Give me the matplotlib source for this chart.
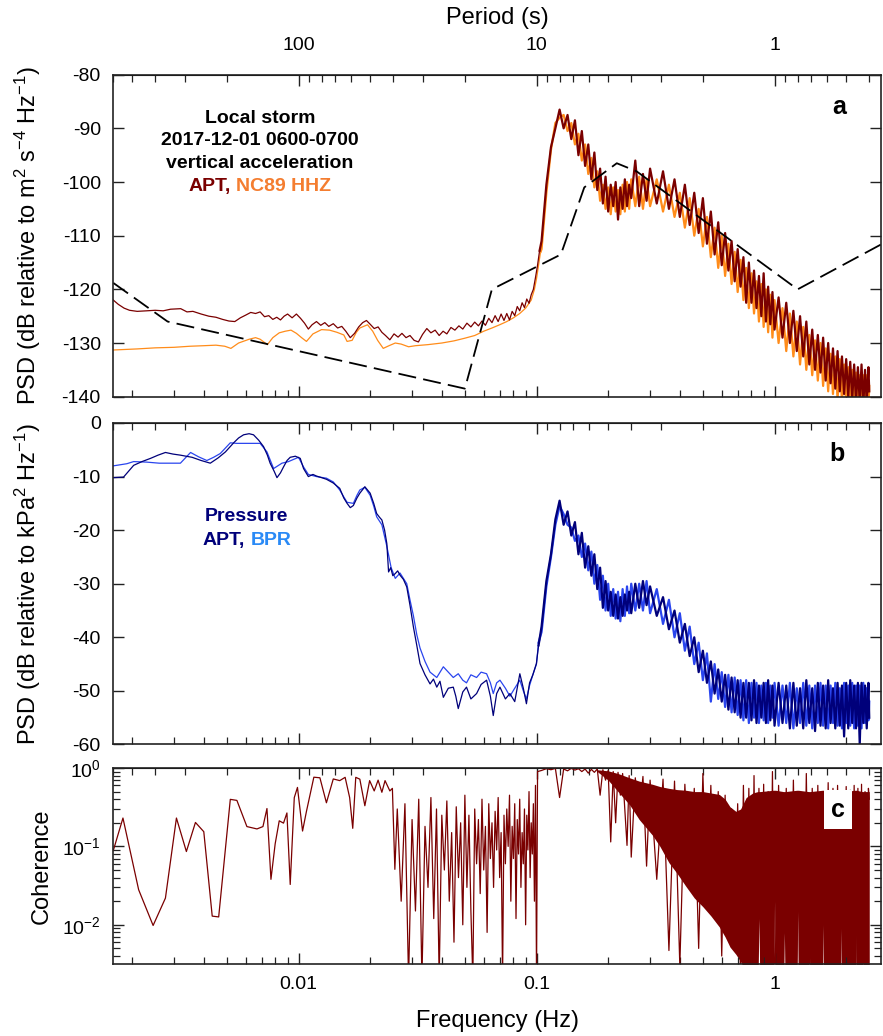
import numpy as np
import matplotlib
matplotlib.use("Agg")
import matplotlib.pyplot as plt
from matplotlib.ticker import (FuncFormatter, NullFormatter, LogLocator,
                               MultipleLocator, FixedLocator)
from matplotlib.offsetbox import TextArea, HPacker, AnnotationBbox

plt.rcParams['font.family'] = ['Liberation Sans', 'DejaVu Sans']
plt.rcParams['axes.unicode_minus'] = False
plt.rcParams['mathtext.fontset'] = 'custom'
plt.rcParams['mathtext.rm'] = 'Liberation Sans'
plt.rcParams['mathtext.it'] = 'Liberation Sans:italic'
plt.rcParams['mathtext.bf'] = 'Liberation Sans:bold'

# ---------------- data ----------------
# Peterson high noise model corners (period s, dB)
nhnm_period = [600, 354.8, 20, 15.4, 7.9, 6.3, 4.6, 3.8, 0.8, 0.32]
nhnm_db = [-118.8, -126.0, -138.5, -120.0, -113.5, -101.0, -96.5, -98.0, -120.0, -110.5]

# panel a, low frequency part
apt_a_lo_f = [0.001667, 0.00175, 0.00185, 0.00195, 0.0021, 0.0023, 0.0025, 0.0027, 0.0029, 0.0032,
              0.0034, 0.0036, 0.0039, 0.0042, 0.0045, 0.0048, 0.0051, 0.0054, 0.0057, 0.006,
              0.0063, 0.0066, 0.0069, 0.0072, 0.0075, 0.0078, 0.0081, 0.0084, 0.0087, 0.009,
              0.0094, 0.0098, 0.0102, 0.0106, 0.011, 0.0114, 0.0119, 0.0124, 0.0129, 0.0134,
              0.014, 0.0146, 0.0152, 0.0158, 0.0165, 0.0172, 0.0179, 0.0186, 0.0193, 0.02,
              0.0208, 0.0216, 0.0224, 0.0232, 0.0242, 0.0252, 0.0262, 0.0272, 0.0283, 0.0294,
              0.0306, 0.0319, 0.0332, 0.0346, 0.036, 0.0375, 0.039, 0.0405, 0.042, 0.0437,
              0.0454, 0.0472, 0.049, 0.051, 0.053, 0.055, 0.057, 0.059, 0.061, 0.063,
              0.065, 0.067, 0.069, 0.071, 0.073, 0.075, 0.077, 0.079, 0.081, 0.083,
              0.085, 0.087, 0.089, 0.091, 0.093, 0.095, 0.097, 0.099, 0.101, 0.103]
apt_a_lo = [-122.0, -122.8, -123.5, -123.9, -124.1, -124.0, -123.9, -124.0, -123.7, -123.6,
            -124.2, -124.1, -124.6, -125.0, -125.2, -125.6, -125.9, -126.0, -125.3, -124.8,
            -124.3, -124.5, -124.2, -125.1, -124.9, -125.6, -125.2, -125.7, -125.0, -124.6,
            -125.3, -124.6, -125.4, -126.3, -127.4, -126.6, -126.0, -126.7, -126.2, -126.9,
            -126.4, -127.2, -126.9, -127.8, -129.0, -128.2, -127.0, -126.2, -125.8, -126.5,
            -127.3, -127.0, -128.0, -128.6, -129.4, -128.3, -128.9, -128.2, -129.0, -128.6,
            -129.5, -129.8, -128.4, -127.3, -128.1, -127.6, -128.6, -127.8, -128.3, -127.1,
            -127.6, -126.8, -127.4, -126.3, -127.0, -126.1, -126.8, -125.9, -126.7, -125.4,
            -126.2, -124.9, -126.0, -124.6, -125.8, -124.5, -125.7, -124.1, -124.9, -123.2,
            -124.0, -122.5, -123.4, -121.8, -122.6, -121.0, -120.0, -117.8, -115.5, -112.8]

nc89_lo_f = [0.001667, 0.0021, 0.0025, 0.003, 0.0035, 0.004, 0.0045, 0.0049, 0.0052, 0.0056,
             0.0062, 0.0066, 0.0069, 0.0074, 0.0078, 0.0083, 0.0088, 0.0093, 0.0098, 0.0103,
             0.0108, 0.0115, 0.0125, 0.0135, 0.0145, 0.0155, 0.016, 0.0168, 0.0175, 0.0181,
             0.0195, 0.0205, 0.0215, 0.0227, 0.024, 0.0255, 0.027, 0.029, 0.031, 0.035,
             0.04, 0.045, 0.05, 0.055, 0.06, 0.065, 0.07, 0.075, 0.08, 0.085,
             0.09, 0.095, 0.098, 0.1, 0.102, 0.104]
nc89_lo = [-131.3, -131.1, -130.9, -130.8, -130.6, -130.5, -130.4, -130.6, -131.0, -130.0,
           -129.3, -129.0, -129.3, -130.3, -129.0, -128.1, -127.8, -127.6, -128.2, -129.0,
           -129.7, -128.3, -127.5, -127.6, -128.0, -128.5, -129.7, -129.5, -128.0, -127.2,
           -126.6, -127.8, -129.5, -131.0, -130.5, -130.0, -130.2, -130.7, -130.5, -130.3,
           -130.0, -129.6, -129.1, -128.6, -127.8, -127.2, -126.6, -126.0, -125.3, -124.5,
           -123.5, -122.0, -120.0, -118.0, -115.5, -113.0]

# shared grid for the dense high-frequency part (Hz)
f_hi = [0.105, 0.11, 0.115, 0.12, 0.125, 0.13, 0.135, 0.14, 0.145, 0.15,
        0.155, 0.16, 0.165, 0.17, 0.175, 0.18, 0.185, 0.19, 0.195, 0.2,
        0.205, 0.21, 0.215, 0.22, 0.225, 0.23, 0.235, 0.24, 0.245, 0.25,
        0.26, 0.27, 0.28, 0.29, 0.3, 0.32, 0.34, 0.36, 0.38, 0.4,
        0.42, 0.44, 0.46, 0.48, 0.5, 0.52, 0.54, 0.56, 0.58, 0.6,
        0.62, 0.64, 0.66, 0.68, 0.7, 0.72, 0.74, 0.76, 0.78, 0.8,
        0.82, 0.84, 0.86, 0.88, 0.9, 0.92, 0.94, 0.96, 0.98, 1.0,
        1.04, 1.08, 1.12, 1.16, 1.2, 1.24, 1.28, 1.32, 1.36, 1.4,
        1.44, 1.48, 1.52, 1.56, 1.6, 1.64, 1.68, 1.72, 1.76, 1.8,
        1.84, 1.88, 1.92, 1.96, 2.0, 2.04, 2.08, 2.12, 2.16, 2.2,
        2.24, 2.28, 2.32, 2.36, 2.4, 2.44, 2.48, 2.5]

apt_a_hi = [-111.0, -100.5, -93.5, -90.0, -86.5, -90.0, -87.5, -92.0, -88.5, -95.0,
            -90.5, -97.0, -93.0, -99.5, -94.5, -101.5, -97.5, -104.0, -99.0, -105.5,
            -100.5, -104.5, -100.0, -107.0, -101.0, -105.0, -99.5, -104.5, -100.5, -103.0,
            -96.0, -104.5, -98.5, -103.5, -97.5, -104.0, -98.0, -105.0, -99.5, -106.5,
            -100.5, -108.0, -102.0, -109.5, -103.0, -111.5, -105.5, -113.5, -107.5, -115.5,
            -109.5, -116.5, -111.0, -118.5, -112.5, -119.5, -114.0, -122.5, -115.0, -122.5,
            -116.5, -123.5, -117.5, -125.0, -117.0, -126.0, -119.5, -126.5, -120.5, -127.5,
            -121.5, -129.0, -122.5, -130.0, -124.0, -131.5, -125.0, -132.5, -126.0, -134.0,
            -127.5, -135.0, -128.5, -135.5, -129.0, -137.0, -130.0, -137.5, -131.0, -138.5,
            -131.5, -139.0, -132.5, -139.5, -133.0, -140.0, -133.5, -140.5, -134.0, -141.0,
            -134.5, -141.0, -134.0, -141.5, -135.0, -141.0, -134.5, -139.0]

nc89_hi = [-112.5, -102.0, -94.0, -89.0, -88.0, -87.5, -90.5, -89.0, -93.0, -91.0,
           -96.0, -93.0, -98.5, -95.5, -101.0, -98.0, -103.5, -100.5, -105.0, -101.0,
           -106.0, -101.0, -105.5, -101.5, -106.0, -100.5, -105.5, -100.0, -105.0, -99.5,
           -104.5, -99.0, -105.0, -99.5, -104.5, -99.5, -105.5, -100.5, -106.5, -102.0,
           -108.5, -103.0, -110.0, -105.0, -112.0, -106.5, -114.0, -108.5, -116.0, -110.0,
           -117.5, -111.5, -119.0, -113.0, -120.5, -114.5, -122.0, -116.0, -123.5, -117.0,
           -124.5, -118.5, -126.0, -119.0, -127.0, -120.0, -128.0, -121.0, -129.0, -122.0,
           -130.0, -123.5, -131.5, -124.5, -132.5, -126.0, -134.0, -127.0, -135.0, -128.5,
           -136.0, -129.5, -137.0, -130.0, -138.0, -131.0, -139.0, -132.0, -139.5, -132.5,
           -140.5, -133.0, -141.0, -134.0, -141.5, -134.5, -142.0, -135.0, -142.0, -135.5,
           -142.0, -136.0, -142.0, -136.0, -142.0, -136.0, -142.0, -138.0]

# panel b, pressure
apt_b_lo_f = [0.001667, 0.00184, 0.00203, 0.0022, 0.00239, 0.00257, 0.00276, 0.00297, 0.00319, 0.00337,
              0.00357, 0.0039, 0.00426, 0.0046, 0.00493, 0.00534, 0.0056, 0.00588, 0.0062, 0.00647,
              0.0068, 0.00713, 0.0074, 0.0076, 0.0079, 0.00812, 0.0084, 0.00865, 0.00895, 0.00923,
              0.0097, 0.01017, 0.0105, 0.011, 0.0115, 0.0119, 0.0125, 0.0131, 0.014, 0.0149,
              0.0155, 0.016, 0.0165, 0.017, 0.0176, 0.0181, 0.019, 0.02, 0.0207, 0.0213,
              0.0219, 0.0224, 0.023, 0.0235, 0.0239, 0.0244, 0.0249, 0.0255, 0.0261, 0.0267,
              0.0276, 0.0285, 0.0294, 0.0304, 0.0314, 0.0324, 0.034, 0.0357, 0.0369, 0.0381,
              0.0393, 0.0406, 0.0426, 0.0447, 0.0458, 0.0469, 0.049, 0.0508, 0.053, 0.056,
              0.0585, 0.0617, 0.064, 0.0658, 0.068, 0.0702, 0.074, 0.0773, 0.081, 0.0851,
              0.088, 0.0907, 0.0935, 0.0965, 0.0999, 0.102]
apt_b_lo = [-10.2, -10.1, -7.9, -7.2, -6.6, -6.0, -5.5, -5.8, -6.0, -6.2,
            -6.4, -7.0, -7.5, -6.5, -5.4, -3.7, -2.8, -2.2, -2.0, -2.2,
            -3.2, -4.4, -6.0, -7.5, -9.0, -10.2, -9.3, -8.2, -7.0, -6.4,
            -6.2, -6.6, -8.5, -10.0, -9.6, -9.9, -10.2, -10.5, -11.2, -12.2,
            -14.0, -15.0, -15.8, -15.4, -14.0, -13.1, -11.9, -13.1, -15.0, -16.9,
            -17.6, -18.1, -20.0, -22.5, -27.8, -27.0, -28.5, -28.1, -27.6, -28.4,
            -29.2, -30.6, -34.0, -38.1, -41.5, -44.9, -47.0, -48.7, -47.8, -49.3,
            -48.2, -51.2, -49.5, -49.3, -51.0, -53.3, -50.2, -49.3, -51.5, -50.5,
            -48.8, -48.0, -51.0, -54.6, -50.5, -49.3, -51.5, -50.5, -52.0, -46.8,
            -49.5, -52.4, -48.5, -47.0, -44.9, -41.5]

bpr_lo_f = [0.001667, 0.0019, 0.00203, 0.0023, 0.0026, 0.0029, 0.00319, 0.00352, 0.0038, 0.00412,
            0.0044, 0.00469, 0.00517, 0.0055, 0.00588, 0.0064, 0.0069, 0.00737, 0.00786, 0.00852,
            0.00908, 0.01, 0.0105, 0.011, 0.0119, 0.0131, 0.014, 0.0149, 0.0155, 0.016,
            0.017, 0.0176, 0.0181, 0.019, 0.02, 0.0207, 0.0213, 0.0224, 0.0235, 0.0245,
            0.0255, 0.0267, 0.0285, 0.0294, 0.0304, 0.0314, 0.0324, 0.034, 0.0357, 0.0381,
            0.0406, 0.0426, 0.0447, 0.0469, 0.049, 0.0508, 0.053, 0.056, 0.0585, 0.0617,
            0.064, 0.0658, 0.068, 0.0702, 0.074, 0.0773, 0.081, 0.0851, 0.088, 0.0907,
            0.0935, 0.0965, 0.0999, 0.102]
bpr_lo = [-8.0, -7.6, -7.2, -7.3, -7.5, -7.5, -7.5, -5.5, -6.3, -7.0,
          -6.4, -5.7, -3.7, -3.8, -3.8, -3.8, -3.8, -5.4, -8.5, -7.5,
          -7.2, -6.4, -8.2, -9.6, -10.0, -10.3, -11.0, -12.5, -13.8, -14.8,
          -15.0, -13.5, -12.5, -12.0, -13.5, -15.5, -17.5, -19.0, -23.0, -27.0,
          -29.0, -28.0, -30.0, -33.0, -36.0, -39.5, -42.0, -44.5, -46.5, -47.5,
          -45.5, -46.5, -47.5, -46.8, -48.0, -48.5, -47.0, -47.5, -46.5, -46.8,
          -48.5, -50.5, -48.5, -48.0, -49.5, -51.0, -49.5, -48.0, -50.0, -51.5,
          -49.0, -47.0, -45.0, -41.0]

apt_b_hi = [-38.0, -29.5, -24.5, -18.0, -14.5, -19.0, -16.5, -21.0, -18.5, -24.5,
            -20.5, -27.0, -23.0, -28.5, -24.5, -31.0, -27.0, -34.5, -29.5, -35.0,
            -31.5, -36.0, -32.0, -36.5, -32.5, -36.0, -32.0, -35.0, -31.5, -35.5,
            -30.0, -34.5, -29.5, -34.0, -30.5, -36.0, -32.5, -38.5, -35.0, -41.0,
            -37.5, -43.5, -40.0, -46.5, -42.5, -48.5, -44.5, -50.5, -46.0, -52.0,
            -47.0, -53.5, -47.5, -54.0, -48.0, -55.0, -48.5, -55.0, -48.5, -55.5,
            -48.0, -56.0, -49.0, -55.0, -48.5, -56.0, -48.0, -55.5, -49.0, -56.5,
            -48.5, -56.0, -49.0, -57.0, -48.5, -56.5, -49.5, -57.0, -48.0, -56.0,
            -49.5, -57.5, -48.5, -56.5, -49.0, -57.0, -48.0, -56.0, -49.5, -57.0,
            -48.5, -56.5, -49.0, -58.5, -48.5, -57.0, -48.0, -56.0, -49.0, -57.0,
            -48.5, -60.0, -48.5, -56.0, -49.0, -57.0, -48.5, -55.0]

bpr_hi = [-39.0, -30.5, -25.0, -19.0, -15.5, -17.0, -19.0, -19.5, -22.0, -21.0,
          -25.0, -22.5, -27.5, -24.0, -30.0, -26.5, -33.0, -28.5, -35.0, -30.0,
          -36.0, -31.0, -36.5, -31.5, -37.0, -31.0, -36.0, -30.5, -35.5, -30.0,
          -35.0, -30.0, -35.0, -29.5, -35.5, -31.0, -37.5, -33.0, -40.0, -35.5,
          -42.5, -38.0, -45.0, -41.0, -48.0, -43.0, -52.0, -45.0, -51.5, -46.5,
          -53.0, -47.0, -54.0, -47.5, -54.5, -48.0, -55.5, -48.0, -56.0, -48.5,
          -55.0, -48.5, -56.0, -49.0, -55.5, -48.5, -56.0, -49.0, -55.0, -48.5,
          -56.5, -49.0, -56.0, -48.5, -57.0, -49.5, -56.0, -48.5, -56.5, -49.0,
          -57.0, -49.0, -56.0, -48.5, -56.5, -49.0, -57.0, -49.0, -56.0, -48.5,
          -56.5, -49.5, -57.0, -48.5, -56.0, -49.0, -56.5, -48.5, -57.0, -49.0,
          -56.5, -49.0, -57.0, -48.5, -56.0, -49.5, -55.5, -52.0]

# panel c, coherence
coh_lo_f = [0.001667, 0.00183, 0.00213, 0.00245, 0.00276, 0.00307, 0.00338, 0.00369, 0.004, 0.00434,
            0.00462, 0.00517, 0.00551, 0.00607, 0.00669, 0.00709, 0.00737, 0.00766, 0.00798, 0.0083,
            0.00865, 0.00894, 0.00923, 0.0096, 0.0099, 0.0104, 0.0108, 0.0116, 0.0123, 0.0131,
            0.014, 0.0149, 0.0157, 0.0164, 0.0169, 0.0174, 0.0181, 0.019, 0.0199, 0.0208,
            0.0216, 0.0224, 0.0231, 0.0242, 0.0248, 0.0254]
coh_lo = [0.0887, 0.23, 0.028, 0.0098, 0.0219, 0.23, 0.086, 0.202, 0.154, 0.0129,
          0.0126, 0.398, 0.386, 0.179, 0.167, 0.179, 0.304, 0.038, 0.108, 0.212,
          0.198, 0.267, 0.0327, 0.419, 0.565, 0.157, 0.28, 0.763, 0.75, 0.36,
          0.725, 0.69, 0.76, 0.42, 0.17, 0.76, 0.72, 0.33, 0.69, 0.51,
          0.7, 0.49, 0.69, 0.51, 0.55, 0.051]

coh_mid_f = [0.026, 0.027, 0.028, 0.029, 0.030, 0.031, 0.032, 0.033, 0.034, 0.035,
             0.036, 0.037, 0.038, 0.039, 0.040, 0.041, 0.042, 0.043, 0.044, 0.045,
             0.046, 0.047, 0.048, 0.049, 0.050, 0.051, 0.052, 0.053, 0.054, 0.055,
             0.056, 0.057, 0.058, 0.059, 0.060, 0.061, 0.062, 0.063, 0.064, 0.065,
             0.066, 0.067, 0.068, 0.069, 0.070, 0.071, 0.072, 0.073, 0.074, 0.075,
             0.076, 0.077, 0.078, 0.079, 0.080, 0.081, 0.082, 0.083, 0.084, 0.085,
             0.086, 0.087, 0.088, 0.089, 0.090, 0.091, 0.092, 0.093, 0.094, 0.095,
             0.096, 0.097, 0.098, 0.099, 0.100, 0.101]
coh_mid = [0.30, 0.02, 0.35, 0.002, 0.22, 0.015, 0.40, 0.002, 0.18, 0.03,
           0.42, 0.012, 0.30, 0.002, 0.25, 0.05, 0.38, 0.02, 0.15, 0.006,
           0.32, 0.04, 0.20, 0.01, 0.45, 0.03, 0.25, 0.015, 0.002, 0.30,
           0.06, 0.22, 0.025, 0.40, 0.05, 0.18, 0.008, 0.35, 0.07, 0.20,
           0.03, 0.28, 0.09, 0.42, 0.04, 0.15, 0.002, 0.25, 0.06, 0.30,
           0.10, 0.45, 0.02, 0.18, 0.07, 0.35, 0.012, 0.22, 0.08, 0.40,
           0.03, 0.15, 0.06, 0.30, 0.01, 0.25, 0.09, 0.50, 0.04, 0.20,
           0.08, 0.35, 0.02, 0.60, 0.002, 0.90]

coh_hi = [0.93, 0.98, 0.95, 0.99, 0.42, 0.97, 0.92, 0.99, 0.94, 0.98,
          0.90, 0.97, 0.86, 0.96, 0.88, 0.97, 0.45, 0.95, 0.70, 0.93,
          0.114, 0.90, 0.20, 0.88, 0.45, 0.85, 0.30, 0.103, 0.80, 0.073,
          0.75, 0.25, 0.78, 0.056, 0.70, 0.038, 0.72, 0.0047, 0.68, 0.003,
          0.62, 0.03, 0.55, 0.005, 0.85, 0.018, 0.60, 0.012, 0.50, 0.004,
          0.45, 0.007, 0.30, 0.0055, 0.35, 0.002, 0.60, 0.0035, 0.55, 0.001,
          0.80, 0.001, 0.55, 0.003, 0.62, 0.001, 0.50, 0.002, 0.90, 0.001,
          0.60, 0.002, 0.55, 0.001, 0.70, 0.003, 0.50, 0.001, 0.85, 0.002,
          0.55, 0.001, 0.60, 0.002, 0.50, 0.001, 0.65, 0.003, 0.55, 0.001,
          0.60, 0.002, 0.50, 0.001, 0.58, 0.002, 0.52, 0.001, 0.60, 0.003,
          0.55, 0.001, 0.62, 0.002, 0.50, 0.001, 0.55, 0.40]

# envelope of the dense coherence band
band_f = [0.18, 0.2, 0.22, 0.246, 0.27, 0.307, 0.33, 0.36, 0.39, 0.424,
          0.46, 0.5, 0.54, 0.586, 0.62, 0.65, 0.688, 0.72, 0.76, 0.81,
          0.85, 0.86, 0.87, 0.99, 1.0, 1.01, 1.09, 1.1, 1.11, 1.24,
          1.25, 1.26, 1.39, 1.4, 1.41, 1.59, 1.6, 1.61, 1.89, 1.9,
          1.91, 2.19, 2.2, 2.21, 2.34, 2.35, 2.36, 2.5]
band_top = [0.95, 0.92, 0.85, 0.75, 0.68, 0.62, 0.58, 0.55, 0.53, 0.52,
            0.5, 0.5, 0.48, 0.46, 0.4, 0.32, 0.28, 0.3, 0.42, 0.48,
            0.5, 0.5, 0.5, 0.52, 0.52, 0.52, 0.5, 0.5, 0.5, 0.52,
            0.52, 0.52, 0.5, 0.5, 0.5, 0.52, 0.52, 0.52, 0.5, 0.5,
            0.5, 0.52, 0.52, 0.52, 0.5, 0.5, 0.5, 0.5]
band_bot = [0.9, 0.7, 0.5, 0.34, 0.22, 0.139, 0.1, 0.062, 0.045, 0.031,
            0.022, 0.017, 0.013, 0.0094, 0.007, 0.0052, 0.0042, 0.0034, 0.0025, 0.001,
            0.001, 0.012, 0.001, 0.001, 0.02, 0.001, 0.001, 0.008, 0.001, 0.001,
            0.015, 0.001, 0.001, 0.006, 0.001, 0.001, 0.01, 0.001, 0.001, 0.009,
            0.001, 0.001, 0.012, 0.001, 0.001, 0.007, 0.001, 0.001]

period_ticks = [100, 10, 1]

# colours
RED = '#7a0000'
ORANGE = '#ff8c1a'
NAVY = '#00007a'
BLUE = '#2a45ee'

# ---------------- figure ----------------
fig = plt.figure(figsize=(8.83, 10.36), dpi=100)
L, W = 0.1283, 0.8694
ax_a = fig.add_axes([L, 0.6171, W, 0.3108])
ax_b = fig.add_axes([L, 0.2814, W, 0.3103])
ax_c = fig.add_axes([L, 0.0695, W, 0.1892])


def inverse(x):
    x = np.array(x, float)
    near_zero = np.isclose(x, 0)
    x[near_zero] = np.inf
    x[~near_zero] = 1 / x[~near_zero]
    return x


plain = FuncFormatter(lambda v, _: f"{v:g}")

for ax in (ax_a, ax_b, ax_c):
    ax.set_xscale('log')
    ax.set_xlim(1 / 600, 2.8)
    ax.tick_params(which='both', direction='in', top=False, right=True,
                   labelsize=14, color='#222222', pad=9)
    ax.tick_params(which='major', length=8, width=1)
    ax.tick_params(which='minor', length=5, width=0.9)
    ax.xaxis.set_major_formatter(NullFormatter())
    ax.xaxis.set_minor_formatter(NullFormatter())
    for s in ax.spines.values():
        s.set_linewidth(1.2)
        s.set_color('#222222')
    # period ticks along the top
    sec = ax.secondary_xaxis('top', functions=(inverse, inverse))
    sec.xaxis.set_major_locator(FixedLocator(period_ticks))
    sec.tick_params(which='both', direction='in', labelsize=14, color='#222222', pad=15)
    sec.tick_params(which='major', length=8, width=1)
    sec.tick_params(which='minor', length=5, width=0.9)
    sec.xaxis.set_minor_formatter(NullFormatter())
    if ax is ax_a:
        sec.xaxis.set_major_formatter(plain)
    else:
        sec.tick_params(labeltop=False)

# ---- panel a ----
ax_a.plot(nc89_lo_f, nc89_lo, color=ORANGE, lw=0.9)
ax_a.plot(nc89_lo_f[-1:] + f_hi, nc89_lo[-1:] + nc89_hi, color=ORANGE, lw=1.6)
ax_a.plot(apt_a_lo_f, apt_a_lo, color=RED, lw=0.9)
ax_a.plot(apt_a_lo_f[-1:] + f_hi, apt_a_lo[-1:] + apt_a_hi, color=RED, lw=1.6)
ax_a.plot([1 / p for p in nhnm_period], nhnm_db, color='black', lw=1.3, dashes=(10, 4))
ax_a.set_ylim(-140, -80)
ax_a.yaxis.set_major_locator(MultipleLocator(10))
ax_a.set_ylabel(r"PSD (dB relative to m$^2$ s$^{-4}$ Hz$^{-1}$)", fontsize=17, va='center')
ax_a.yaxis.set_label_coords(-0.111, 0.5)

for y, s in [(0.8655, "Local storm"), (0.797, "2017-12-01 0600-0700"),
             (0.725, "vertical acceleration")]:
    ax_a.text(0.191, y, s, transform=ax_a.transAxes, ha='center', va='center',
              fontsize=14, fontweight='bold')
row = HPacker(children=[TextArea("APT,", textprops=dict(color=RED, fontsize=14, fontweight='bold')),
                        TextArea("NC89 HHZ", textprops=dict(color='#f47d30', fontsize=14, fontweight='bold'))],
              sep=4, pad=0, align='baseline')
ax_a.add_artist(AnnotationBbox(row, (0.191, 0.652), xycoords=ax_a.transAxes,
                               frameon=False, box_alignment=(0.5, 0.5)))
ax_a.text(0.946, 0.9, "a", transform=ax_a.transAxes, ha='center', va='center',
          fontsize=18, fontweight='bold')

# ---- panel b ----
ax_b.plot(bpr_lo_f, bpr_lo, color=BLUE, lw=0.9)
ax_b.plot(bpr_lo_f[-1:] + f_hi, bpr_lo[-1:] + bpr_hi, color=BLUE, lw=1.6)
ax_b.plot(apt_b_lo_f, apt_b_lo, color=NAVY, lw=0.9)
ax_b.plot(apt_b_lo_f[-1:] + f_hi, apt_b_lo[-1:] + apt_b_hi, color=NAVY, lw=1.6)
ax_b.set_ylim(-60, 0)
ax_b.yaxis.set_major_locator(MultipleLocator(10))
ax_b.set_ylabel(r"PSD (dB relative to kPa$^2$ Hz$^{-1}$)", fontsize=17, va='center')
ax_b.yaxis.set_label_coords(-0.111, 0.5)
ax_b.text(0.174, 0.7086, "Pressure", transform=ax_b.transAxes, ha='center', va='center',
          fontsize=14, fontweight='bold', color=NAVY)
row_b = HPacker(children=[TextArea("APT,", textprops=dict(color=NAVY, fontsize=14, fontweight='bold')),
                          TextArea("BPR", textprops=dict(color='#2a8af6', fontsize=14, fontweight='bold'))],
                sep=4, pad=0, align='baseline')
ax_b.add_artist(AnnotationBbox(row_b, (0.174, 0.636), xycoords=ax_b.transAxes,
                               frameon=False, box_alignment=(0.5, 0.5)))
ax_b.text(0.943, 0.9036, "b", transform=ax_b.transAxes, ha='center', va='center',
          fontsize=18, fontweight='bold')

# ---- panel c ----
ax_c.set_yscale('log')
ax_c.fill_between(band_f, band_bot, band_top, color=RED, lw=0)
ax_c.plot(coh_lo_f + coh_mid_f + f_hi, coh_lo + coh_mid + coh_hi, color=RED, lw=0.9)
ax_c.set_ylim(10 ** -2.5, 1.0)
ax_c.yaxis.set_major_locator(LogLocator(base=10, numticks=10))
ax_c.yaxis.set_minor_locator(LogLocator(base=10, subs=np.arange(2, 10), numticks=10))
ax_c.yaxis.set_minor_formatter(NullFormatter())
ax_c.xaxis.set_major_formatter(plain)
ax_c.set_ylabel("Coherence", fontsize=17, va='center')
ax_c.yaxis.set_label_coords(-0.093, 0.5)
ax_c.text(0.944, 0.786, "c", transform=ax_c.transAxes, ha='center', va='center',
          fontsize=18, fontweight='bold', zorder=5,
          bbox=dict(boxstyle='square,pad=0.3', fc='white', ec='none'))

fig.text(0.563, 0.983, "Period (s)", ha='center', va='center', fontsize=17)
fig.text(0.563, 0.0145, "Frequency (Hz)", ha='center', va='center', fontsize=17)

fig.savefig("out.png", dpi=100)
